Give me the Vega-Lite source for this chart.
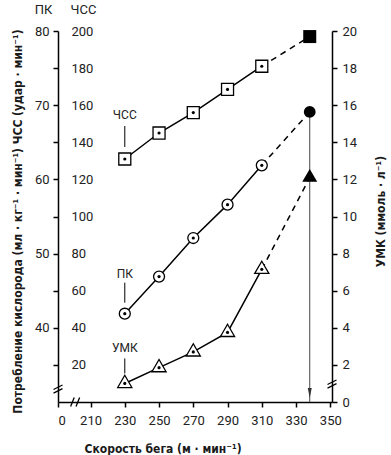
{
  "$schema": "https://vega.github.io/schema/vega-lite/v6.json",
  "width": 274,
  "height": 371,
  "autosize": "none",
  "padding": {"left": 58, "top": 31, "right": 59, "bottom": 53},
  "background": "white",
  "title": {
    "text": "Потребление кислорода (мл · кг⁻¹ · мин⁻¹) ЧСС (удар · мин⁻¹)",
    "orient": "left",
    "anchor": "middle",
    "font": "DejaVu Sans Condensed, DejaVu Sans",
    "fontSize": 12,
    "fontWeight": "bold",
    "color": "#1a1a1a",
    "offset": 9,
    "dx": -5
  },
  "config": {
    "view": {"stroke": null},
    "axis": {
      "labelFont": "Roboto",
      "labelFontSize": 13,
      "labelColor": "#222",
      "labelOverlap": false,
      "titleFont": "DejaVu Sans Condensed, DejaVu Sans",
      "titleFontSize": 12,
      "titleFontWeight": "bold",
      "titleColor": "#1a1a1a",
      "domainColor": "#000",
      "tickColor": "#000",
      "domainWidth": 1.5,
      "tickWidth": 1.5,
      "grid": false
    }
  },
  "datasets": {
    "hr": [
      {"speed": 230, "hr": 131, "series": "ЧСС"},
      {"speed": 250, "hr": 145, "series": "ЧСС"},
      {"speed": 270, "hr": 156, "series": "ЧСС"},
      {"speed": 290, "hr": 168.5, "series": "ЧСС"},
      {"speed": 310, "hr": 181, "series": "ЧСС"},
      {"speed": 338, "hr": 197, "series": "ЧСС"}
    ],
    "pk": [
      {"speed": 230, "pk": 41.9, "series": "ПК"},
      {"speed": 250, "pk": 46.9, "series": "ПК"},
      {"speed": 270, "pk": 52.1, "series": "ПК"},
      {"speed": 290, "pk": 56.6, "series": "ПК"},
      {"speed": 310, "pk": 61.9, "series": "ПК"},
      {"speed": 338, "pk": 69.1, "series": "ПК"}
    ],
    "umk": [
      {"speed": 230, "umk": 1.0, "series": "УМК"},
      {"speed": 250, "umk": 1.85, "series": "УМК"},
      {"speed": 270, "umk": 2.7, "series": "УМК"},
      {"speed": 290, "umk": 3.75, "series": "УМК"},
      {"speed": 310, "umk": 7.15, "series": "УМК"},
      {"speed": 338, "umk": 12.1, "series": "УМК"}
    ],
    "brk": [
      {"speed": 201, "hr": 0, "kind": "x"},
      {"speed": 191, "hr": 7, "kind": "y"},
      {"speed": 351, "hr": 9.7, "kind": "y"}
    ]
  },
  "encoding": {
    "x": {
      "field": "speed",
      "type": "quantitative",
      "scale": {"domain": [191, 351], "nice": false, "zero": false},
      "axis": {
        "values": [191, 210, 230, 250, 270, 290, 310, 330, 350],
        "labelExpr": "datum.value == 191 ? '0' : datum.label",
        "title": "Скорость бега (м · мин⁻¹)",
        "titleX": 26,
        "titleY": 50,
        "titleAlign": "left",
        "titleBaseline": "alphabetic",
        "tickSize": 5,
        "labelPadding": 7,
        "encode": {
          "ticks": {"update": {"y": {"value": -5}, "y2": {"value": 5}, "opacity": {"signal": "datum.value == 191 ? 0 : 1"}}}
        }
      }
    }
  },
  "layer": [
    {
      "data": {"name": "hr"},
      "encoding": {
        "y": {
          "field": "hr",
          "type": "quantitative",
          "scale": {"domain": [0, 200], "nice": false, "zero": false},
          "axis": {
            "orient": "left",
            "values": [20, 40, 60, 80, 100, 120, 140, 160, 180, 200],
            "ticks": false,
            "domain": false,
            "labelAlign": "left",
            "labelPadding": -13,
            "title": "ЧСС",
            "titleFont": "Roboto",
            "titleAngle": 0,
            "titleX": 25,
            "titleY": -18,
            "titleAlign": "center",
            "titleBaseline": "alphabetic",
            "titleFontWeight": "normal",
            "titleFontSize": 13,
            "titleColor": "#222"
          }
        }
      },
      "layer": [
        {"transform": [{"filter": "datum.speed <= 310"}], "mark": {"type": "line", "color": "black", "strokeWidth": 1.5}},
        {"transform": [{"filter": "datum.speed >= 310"}], "mark": {"type": "line", "color": "black", "strokeWidth": 1.5, "strokeDash": [6, 5]}},
        {"transform": [{"filter": "datum.speed <= 310"}], "mark": {"type": "point", "shape": "square", "size": 144, "filled": true, "fill": "white", "stroke": "black", "strokeWidth": 1.3, "opacity": 1}},
        {"transform": [{"filter": "datum.speed <= 310"}], "mark": {"type": "point", "shape": "circle", "size": 10, "filled": true, "color": "black", "opacity": 1}},
        {"transform": [{"filter": "datum.speed > 310"}], "mark": {"type": "point", "shape": "square", "size": 169, "filled": true, "color": "black", "opacity": 1}},
        {"transform": [{"filter": "datum.speed == 230"}], "mark": {"type": "rule", "color": "black", "strokeWidth": 1, "yOffset": -12, "y2Offset": -33}, "encoding": {"y2": {"field": "hr"}}},
        {"transform": [{"filter": "datum.speed == 230"}], "mark": {"type": "text", "dy": -40, "baseline": "alphabetic", "align": "center", "font": "Roboto", "fontSize": 12, "color": "#222"}, "encoding": {"text": {"field": "series"}}},
        {
          "data": {"name": "brk"},
          "mark": {"type": "point", "filled": false, "stroke": "black", "strokeWidth": 1.3, "size": 81, "opacity": 1},
          "encoding": {
            "shape": {"field": "kind", "type": "nominal", "scale": {"domain": ["x", "y"], "range": ["M-1,1L-0.2,-1M0.2,1L1,-1", "M-1,0.1L1,-0.9M-1,0.9L1,-0.1"]}, "legend": null}
          }
        }
      ]
    },
    {
      "data": {"name": "pk"},
      "encoding": {
        "y": {
          "field": "pk",
          "type": "quantitative",
          "scale": {"domain": [30, 80], "nice": false, "zero": false},
          "axis": {
            "orient": "left",
            "values": [35, 40, 45, 50, 55, 60, 65, 70, 75, 80],
            "labelExpr": "datum.value % 10 == 0 ? datum.label : ''",
            "tickSize": 5,
            "labelPadding": 4,
            "title": "ПК",
            "titleFont": "Roboto",
            "titleAngle": 0,
            "titleX": -15,
            "titleY": -18,
            "titleAlign": "center",
            "titleBaseline": "alphabetic",
            "titleFontWeight": "normal",
            "titleFontSize": 13,
            "titleColor": "#222",
            "encode": {"ticks": {"update": {"x": {"value": -5}, "x2": {"value": 5}}}}
          }
        }
      },
      "layer": [
        {"transform": [{"filter": "datum.speed > 310"}], "mark": {"type": "rule", "color": "#444", "strokeWidth": 1}, "encoding": {"y2": {"datum": 30}}},
        {"transform": [{"filter": "datum.speed > 310"}], "mark": {"type": "point", "shape": "M-0.4,-1L0,1L0.4,-1Z", "size": 100, "filled": true, "color": "#333", "opacity": 1, "yOffset": -9}, "encoding": {"y": {"datum": 30}}},
        {"transform": [{"filter": "datum.speed <= 310"}], "mark": {"type": "line", "color": "black", "strokeWidth": 1.5}},
        {"transform": [{"filter": "datum.speed >= 310"}], "mark": {"type": "line", "color": "black", "strokeWidth": 1.5, "strokeDash": [6, 5]}},
        {"transform": [{"filter": "datum.speed <= 310"}], "mark": {"type": "point", "shape": "circle", "size": 120, "filled": true, "fill": "white", "stroke": "black", "strokeWidth": 1.3, "opacity": 1}},
        {"transform": [{"filter": "datum.speed <= 310"}], "mark": {"type": "point", "shape": "circle", "size": 10, "filled": true, "color": "black", "opacity": 1}},
        {"transform": [{"filter": "datum.speed > 310"}], "mark": {"type": "point", "shape": "circle", "size": 140, "filled": true, "color": "black", "opacity": 1}},
        {"transform": [{"filter": "datum.speed == 230"}], "mark": {"type": "rule", "color": "black", "strokeWidth": 1, "yOffset": -11, "y2Offset": -31}, "encoding": {"y2": {"field": "pk"}}},
        {"transform": [{"filter": "datum.speed == 230"}], "mark": {"type": "text", "dy": -36, "baseline": "alphabetic", "align": "center", "font": "Roboto", "fontSize": 12, "color": "#222"}, "encoding": {"text": {"field": "series"}}}
      ]
    },
    {
      "data": {"name": "umk"},
      "encoding": {
        "y": {
          "field": "umk",
          "type": "quantitative",
          "scale": {"domain": [0, 20], "nice": false, "zero": false},
          "axis": {
            "orient": "right",
            "values": [0, 2, 4, 6, 8, 10, 12, 14, 16, 18, 20],
            "tickSize": 5,
            "labelPadding": 5,
            "title": "УМК (ммоль · л⁻¹)",
            "titleAngle": 270,
            "titleX": 48,
            "titleY": 180,
            "titleAlign": "center",
            "titleBaseline": "middle",
            "encode": {"ticks": {"update": {"x": {"value": -5}, "x2": {"value": 5}}}}
          }
        }
      },
      "layer": [
        {"transform": [{"filter": "datum.speed <= 310"}], "mark": {"type": "line", "color": "black", "strokeWidth": 1.5}},
        {"transform": [{"filter": "datum.speed >= 310"}], "mark": {"type": "line", "color": "black", "strokeWidth": 1.5, "strokeDash": [6, 5]}},
        {"transform": [{"filter": "datum.speed <= 310"}], "mark": {"type": "point", "shape": "M0,-1.155L1,0.577L-1,0.577Z", "size": 200, "filled": true, "fill": "white", "stroke": "black", "strokeWidth": 1.3, "opacity": 1}},
        {"transform": [{"filter": "datum.speed <= 310"}], "mark": {"type": "point", "shape": "circle", "size": 10, "filled": true, "color": "black", "opacity": 1}},
        {"transform": [{"filter": "datum.speed > 310"}], "mark": {"type": "point", "shape": "M0,-1.155L1,0.577L-1,0.577Z", "size": 225, "filled": true, "color": "black", "opacity": 1}},
        {"transform": [{"filter": "datum.speed == 230"}], "mark": {"type": "rule", "color": "black", "strokeWidth": 1, "yOffset": -10, "y2Offset": -25}, "encoding": {"y2": {"field": "umk"}}},
        {"transform": [{"filter": "datum.speed == 230"}], "mark": {"type": "text", "dy": -31, "baseline": "alphabetic", "align": "center", "font": "Roboto", "fontSize": 12, "color": "#222"}, "encoding": {"text": {"field": "series"}}}
      ]
    }
  ],
  "resolve": {"scale": {"y": "independent"}, "axis": {"y": "independent"}}
}
